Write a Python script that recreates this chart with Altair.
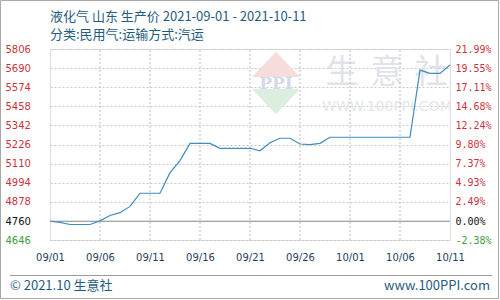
import altair as alt
import pandas as pd

# ---- data ----
day_index = list(range(41))  # 2021-09-01 .. 2021-10-11
prices = [4760, 4753, 4740, 4740, 4740, 4762, 4795, 4812, 4850, 4930,
          4930, 4930, 5055, 5128, 5233, 5233, 5233, 5203, 5203, 5203,
          5203, 5188, 5237, 5264, 5264, 5229, 5225, 5233, 5270, 5270,
          5270, 5270, 5270, 5270, 5270, 5270, 5270, 5678, 5658, 5658,
          5709]
x_ticks = [0, 5, 10, 15, 20, 25, 30, 35, 40]
x_tick_labels = ["09/01", "09/06", "09/11", "09/16", "09/21", "09/26", "10/01", "10/06", "10/11"]
y_ticks = [4646, 4760, 4878, 4994, 5110, 5226, 5342, 5458, 5574, 5690, 5806]
pct_labels = ["-2.38%", "0.00%", "2.49%", "4.93%", "7.37%", "9.80%", "12.24%", "14.68%", "17.11%", "19.55%", "21.99%"]
baseline = [4760]
title_lines = ["液化气 山东 生产价 2021-09-01 - 2021-10-11", "分类:民用气:运输方式:汽运"]
footer_left = "© 2021.10 生意社"
footer_right = "www.100PPI.com"

df = pd.DataFrame({"day": day_index, "price": prices})
base_df = pd.DataFrame({"price": baseline})
# vertical grid segments built from tick positions and the y-axis extent
vg_rows = []
for t in x_ticks[1:-1]:
    vg_rows.append({"tick": t, "g": t, "yv": y_ticks[0]})
    vg_rows.append({"tick": t, "g": t, "yv": y_ticks[-1]})
vgrid_df = pd.DataFrame(vg_rows)

W, H = 400, 191
xscale = alt.Scale(domain=[0, 40], nice=False, zero=False)
yscale = alt.Scale(domain=[4646, 5806], nice=False, zero=False)

lbl_color = alt.ExprRef(expr="datum.value > 4761 ? '#cc3340' : (datum.value < 4700 ? '#3f9a45' : '#111111')")
xlab_expr = "[" + ",".join("'%s'" % s for s in x_tick_labels) + "][round(datum.value/5)]"
pct_expr = "{" + ",".join("'%d':'%s'" % (v, s) for v, s in zip(y_ticks, pct_labels)) + "}[''+datum.value]"

xaxis = alt.Axis(values=x_ticks, labelExpr=xlab_expr, title=None, domain=False, ticks=False,
                 grid=False, labelFont="DejaVu Sans", labelFlush=False,
                 labelFontSize=10, labelColor="#1e3f60", labelPadding=12)

one = pd.DataFrame({"a": [0]})

def txt(text, x, y, size, color, align="left", font="Noto Sans CJK SC", weight="normal", baseline_="alphabetic"):
    return alt.Chart(one).mark_text(text=text, align=align, baseline=baseline_, fontSize=size,
                                    color=color, font=font, fontWeight=weight).encode(
        x=alt.value(x), y=alt.value(y))

# watermark
wm_color = "#dfe3ea"
logo_top = alt.Chart(one).mark_point(shape="M-1,-0.25L0,-1.3L1,-0.25Z", filled=True, size=2304,
                                     color="#f6dcda", opacity=1).encode(x=alt.value(226), y=alt.value(34))
logo_bot = alt.Chart(one).mark_point(shape="M-1,0.25L0,1.3L1,0.25Z", filled=True, size=2304,
                                     color="#dcefdf", opacity=1).encode(x=alt.value(226), y=alt.value(34))
logo_txt = txt("PPI", 226, 35, 17, "#d2d9e8", align="center", font="DejaVu Serif", weight="bold", baseline_="middle")
wm1 = txt("生", 292, 24, 33, wm_color, align="center", baseline_="middle")
wm2 = txt("意", 337, 24, 33, wm_color, align="center", baseline_="middle")
wm3 = txt("社", 381, 24, 33, wm_color, align="center", baseline_="middle")
wm4 = txt("WWW.100PPI.COM", 337, 58, 14, "#e3e6ea", align="center", font="DejaVu Sans", baseline_="middle")

vgrid = alt.Chart(vgrid_df).mark_line(color="#bcbcbc", strokeDash=[2, 2], strokeWidth=1).encode(
    x=alt.X("tick:Q", scale=xscale, axis=xaxis),
    y=alt.Y("yv:Q", scale=yscale, axis=None),
    detail="g:N",
)

line = alt.Chart(df).mark_line(color="#3f8cbf", strokeWidth=1.2, interpolate="linear").encode(
    x=alt.X("day:Q", scale=xscale, axis=xaxis),
    y=alt.Y("price:Q", scale=yscale,
            axis=alt.Axis(values=y_ticks, title=None, domain=False, ticks=False, grid=True,
                          gridDash=[2, 2], gridColor="#c8c8c8", labelFont="DejaVu Sans", labelFontSize=10,
                          labelColor=lbl_color, labelAlign="left", labelPadding=45, format="d")),
)

right = alt.Chart(df).mark_line(opacity=0).encode(
    x=alt.X("day:Q", scale=xscale, axis=xaxis),
    y=alt.Y("price:Q", scale=yscale,
            axis=alt.Axis(orient="right", values=y_ticks, labelExpr=pct_expr, title=None, domain=False,
                          ticks=False, grid=False, labelFont="DejaVu Sans Mono", labelFontSize=10,
                          labelColor=lbl_color, labelAlign="left", labelPadding=5)),
)

base_rule = alt.Chart(base_df).mark_rule(color="#8c8c8c", strokeWidth=1).encode(
    y=alt.Y("price:Q", scale=yscale, axis=None))

t1 = txt(title_lines[0], 0, -28, 13, "#1f5c80")
t2 = txt(title_lines[1], 0, -10, 13, "#1f5c80")
f1 = txt(footer_left, -40, 241, 13, "#1f5c80")
f2 = txt(footer_right, 440, 241, 13, "#1f5c80", align="right")
frule = alt.Chart(one).mark_rule(color="#9a9a9a").encode(
    x=alt.value(-40), x2=alt.value(442), y=alt.value(226.5))
frame = alt.Chart(one).mark_rect(fill=None, stroke="#a8a8a8", strokeWidth=1).encode(
    x=alt.value(-49.5), x2=alt.value(448.5), y=alt.value(-48.5), y2=alt.value(249.5))

chart = alt.layer(
    logo_top, logo_bot, logo_txt, wm1, wm2, wm3, wm4,
    vgrid, base_rule, line, right, t1, t2, frule, f1, f2, frame
).resolve_axis(y="independent").properties(
    width=W, height=H,
    autosize=alt.AutoSizeParams(type="none"),
    padding={"left": 50, "top": 49, "right": 50, "bottom": 60},
).configure_view(stroke="#999999", strokeWidth=1).configure(background="white")

chart.save("out.html", embed_options={"renderer": "svg", "actions": False})
